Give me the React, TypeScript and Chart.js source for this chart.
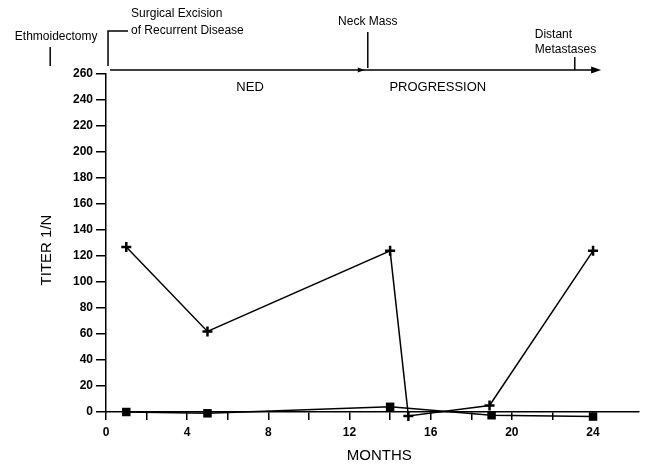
import React, { useEffect, useRef } from "react";
import { Chart, registerables } from "chart.js";

Chart.register(...registerables);

// Series
const PLUS_MONTHS = [1, 5, 14, 14.9, 18.9, 24];
const PLUS_TITER = [127, 62, 124, -3, 5, 124];
const SQUARE_MONTHS = [1, 5, 14, 19, 24];
const SQUARE_TITER = [0, -1, 4, -2.5, -3.5];

// Axis setup
const X_MIN = 0;
const X_MAX = 26.24;
const X_STEP = 2;
const X_LABEL_EVERY = 4;
const X_LAST_TICK = 24;
const Y_MIN = 0;
const Y_MAX = 260;
const Y_STEP = 20;

// Timeline events (months)
const EVENT_NAMES = ["Ethmoidectomy", "Surgical Excision|of Recurrent Disease", "Neck Mass", "Distant|Metastases"];
const EVENT_MONTHS = [-2.75, 0.1, 12.9, 23.1];
const TIMELINE_START = 0.2;
const TIMELINE_END = 24.25;
const PHASE_NAMES = ["NED", "PROGRESSION"];
const PHASE_MONTHS = [7.1, 16.35];

const FONT = "'Liberation Sans', Arial, Helvetica, sans-serif";

const annotationPlugin = {
  id: "timelineAnnotations",
  afterDraw(chart: any) {
    const ctx: CanvasRenderingContext2D = chart.ctx;
    const xs = chart.scales.x;
    const px = (m: number) => xs.getPixelForValue(m);
    const top = chart.chartArea.top;
    const ly = top - 4;
    ctx.save();
    ctx.strokeStyle = "#000";
    ctx.fillStyle = "#000";
    ctx.lineWidth = 1.5;

    // main timeline arrow
    const xa = px(TIMELINE_START);
    const xb = px(TIMELINE_END);
    ctx.beginPath();
    ctx.moveTo(xa, ly);
    ctx.lineTo(xb - 4, ly);
    ctx.stroke();
    ctx.beginPath();
    ctx.moveTo(xb + 3, ly);
    ctx.lineTo(xb - 7, ly - 3.5);
    ctx.lineTo(xb - 7, ly + 3.5);
    ctx.closePath();
    ctx.fill();

    ctx.font = `12px ${FONT}`;
    ctx.textBaseline = "middle";

    // Ethmoidectomy
    let x = px(EVENT_MONTHS[0]);
    ctx.beginPath();
    ctx.moveTo(x, 47);
    ctx.lineTo(x, 66);
    ctx.stroke();
    ctx.textAlign = "center";
    ctx.fillText(EVENT_NAMES[0], x + 6, 37);

    // Surgical excision bracket
    x = px(EVENT_MONTHS[1]);
    ctx.beginPath();
    ctx.moveTo(x, 66);
    ctx.lineTo(x, 31);
    ctx.lineTo(x + 20, 31);
    ctx.stroke();
    ctx.textAlign = "left";
    const s = EVENT_NAMES[1].split("|");
    ctx.fillText(s[0], x + 23, 14);
    ctx.fillText(s[1], x + 23, 31);

    // Neck mass
    x = px(EVENT_MONTHS[2]);
    ctx.beginPath();
    ctx.moveTo(x, 32);
    ctx.lineTo(x, ly - 2);
    ctx.stroke();
    ctx.textAlign = "center";
    ctx.fillText(EVENT_NAMES[2], x, 22);
    ctx.beginPath();
    ctx.moveTo(x - 3, ly);
    ctx.lineTo(x - 10, ly - 2.5);
    ctx.lineTo(x - 10, ly + 2.5);
    ctx.closePath();
    ctx.fill();

    // Distant metastases
    x = px(EVENT_MONTHS[3]);
    ctx.beginPath();
    ctx.moveTo(x, 57);
    ctx.lineTo(x, ly);
    ctx.stroke();
    ctx.textAlign = "left";
    const d = EVENT_NAMES[3].split("|");
    ctx.fillText(d[0], x - 40, 35);
    ctx.fillText(d[1], x - 40, 50);

    // phases
    ctx.font = `13px ${FONT}`;
    ctx.textAlign = "center";
    PHASE_NAMES.forEach((n, i) => ctx.fillText(n, px(PHASE_MONTHS[i]), 87));

    // axis titles
    ctx.font = `15px ${FONT}`;
    ctx.fillText("MONTHS", (chart.chartArea.left + chart.chartArea.right) / 2 + 7, 456);
    ctx.save();
    ctx.translate(47, 250);
    ctx.rotate(-Math.PI / 2);
    ctx.fillText("TITER 1/N", 0, 0);
    ctx.restore();

    ctx.restore();
  },
};

export default function App() {
  const ref = useRef<HTMLCanvasElement | null>(null);
  useEffect(() => {
    if (!ref.current) return;
    Chart.defaults.font.family = FONT;
    const chart = new Chart(ref.current, {
      type: "line",
      data: {
        datasets: [
          {
            label: "plus",
            data: PLUS_MONTHS.map((m, i) => ({ x: m, y: PLUS_TITER[i] })),
            borderColor: "#000",
            backgroundColor: "#000",
            borderWidth: 1.5,
            pointStyle: "cross",
            pointRadius: 5,
            pointBorderWidth: 2.5,
            pointBorderColor: "#000",
            tension: 0,
            clip: false as any,
          },
          {
            label: "square",
            data: SQUARE_MONTHS.map((m, i) => ({ x: m, y: SQUARE_TITER[i] })),
            borderColor: "#000",
            backgroundColor: "#000",
            borderWidth: 1.5,
            pointStyle: "rect",
            pointRadius: 6,
            pointBackgroundColor: "#000",
            pointBorderColor: "#000",
            pointBorderWidth: 0,
            tension: 0,
            clip: false as any,
          },
        ],
      },
      options: {
        responsive: false,
        animation: false,
        devicePixelRatio: 1,
        layout: { padding: { left: 0, right: 0, top: 74, bottom: 0 } },
        plugins: { legend: { display: false }, tooltip: { enabled: false } },
        scales: {
          x: {
            type: "linear",
            min: X_MIN,
            max: X_MAX,
            afterBuildTicks: (scale: any) => {
              scale.ticks = scale.ticks.filter(
                (t: any) => t.value <= X_LAST_TICK && Math.abs(t.value % X_STEP) < 1e-6
              );
            },
            afterFit: (scale: any) => {
              scale.height = 52;
            },
            ticks: {
              stepSize: X_STEP,
              autoSkip: false,
              maxRotation: 0,
              color: "#000",
              padding: 5,
              font: { size: 12, weight: "bold" },
              callback: (v: any) => (Number(v) % X_LABEL_EVERY === 0 ? String(v) : ""),
            },
            grid: { drawOnChartArea: false, drawTicks: true, tickLength: 8, color: "#000", lineWidth: 1.5 },
            border: { display: true, color: "#000", width: 1.5 },
          },
          y: {
            type: "linear",
            min: Y_MIN,
            max: Y_MAX,
            afterFit: (scale: any) => {
              scale.width = 106;
            },
            ticks: {
              stepSize: Y_STEP,
              color: "#000",
              padding: 3,
              font: { size: 12, weight: "bold" },
            },
            grid: { drawOnChartArea: false, drawTicks: true, tickLength: 10, color: "#000", lineWidth: 1.5 },
            border: { display: true, color: "#000", width: 1.5 },
          },
        },
      },
      plugins: [annotationPlugin],
    });
    return () => chart.destroy();
  }, []);
  return (
    <div style={{ position: "fixed", left: 0, top: 0, width: 646, height: 464, background: "#fff" }}>
      <canvas ref={ref} width={646} height={464} style={{ display: "block" }} />
    </div>
  );
}
